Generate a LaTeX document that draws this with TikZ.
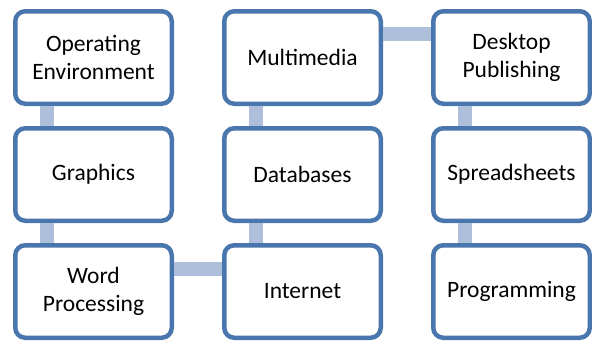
\documentclass[tikz,border=0pt]{standalone}
\usepackage{fontspec}
\setmainfont{Carlito}
\usepackage{tikz}
\usetikzlibrary{positioning,calc}
\definecolor{boxblue}{HTML}{4A76AE}
\definecolor{linkblue}{HTML}{AEBFDC}
\tikzset{
    box/.style={draw=boxblue, line width=4.5pt, rounded corners=10pt, fill=white,
        minimum width=156.5pt, minimum height=92.5pt, align=center,
        font=\fontsize{23.5}{27.5}\selectfont},
    link/.style={linkblue, line width=14pt}
}

\begin{document}
\begin{tikzpicture}[node distance=20pt and 48pt]
                    \useasboundingbox (0,0) rectangle (592pt,-343pt);
                    \node[box] (OE) at (93.5pt,-57.5pt) {Operating\\Environment};
                    \node[box, below=of OE] (G) {Graphics};
                    \node[box, below=of G] (WP) {Word\\Processing};
                    \node[box, right=of WP] (I) {Internet};
                    \node[box, above=of I] (D) {Databases};
                    \node[box, above=of D] (M) {Multimedia};
                    \node[box, right=of M] (DP) {Desktop\\Publishing};
                    \node[box, below=of DP] (S) {Spreadsheets};
                    \node[box, below=of S] (P) {Programming};
                    \draw[link] ([xshift=-46.5pt]OE.south) -- ([xshift=-46.5pt]G.north);
                    \draw[link] ([xshift=-46.5pt]G.south) -- ([xshift=-46.5pt]WP.north);
                    \draw[link] ([yshift=22.5pt]WP.east) -- ([yshift=22.5pt]I.west);
                    \draw[link] ([xshift=-46.5pt]I.north) -- ([xshift=-46.5pt]D.south);
                    \draw[link] ([xshift=-46.5pt]D.north) -- ([xshift=-46.5pt]M.south);
                    \draw[link] ([yshift=23.5pt]M.east) -- ([yshift=23.5pt]DP.west);
                    \draw[link] ([xshift=-46.5pt]DP.south) -- ([xshift=-46.5pt]S.north);
                    \draw[link] ([xshift=-46.5pt]S.south) -- ([xshift=-46.5pt]P.north);
                \end{tikzpicture}
\end{document}
